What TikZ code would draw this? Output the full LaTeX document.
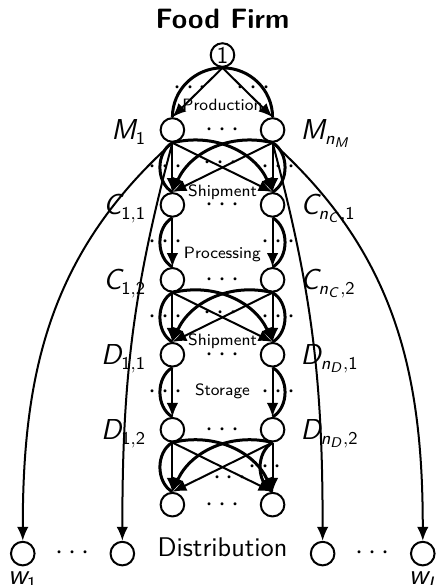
\documentclass[tikz,border=0pt]{standalone}
\usepackage{tikz}
\usetikzlibrary{positioning,calc,arrows.meta}
\DeclareMathAlphabet{\mathsfit}{OT1}{cmss}{m}{sl}
\newcommand{\lab}[2]{$\mathsfit{#1}_{#2}$}
\newcommand{\si}[1]{\mathsfit{#1}}
\newcommand{\su}[1]{\mathsf{#1}}

\begin{document}
\begin{tikzpicture}[
      every node/.style={font=\sffamily},
      V/.style={on grid,draw,circle,line width=1pt,inner sep=0pt,minimum size=11.8pt,
        font=\sffamily\fontsize{12}{14}\selectfont},
      lbl/.style={inner sep=0pt,text depth=0pt,font=\sffamily\fontsize{13.5}{16}\selectfont},
      dots/.style={inner sep=0pt,font=\fontsize{13.5}{16}\selectfont},
      stage/.style={inner sep=0pt,font=\sffamily\fontsize{8.2}{10}\selectfont},
      e/.style={->,line width=1pt},
      par/.style={line width=1.5pt},
      crs/.style={->,line width=1.5pt},
      >={Latex[length=7pt,width=5.8pt]},
    ]
    \useasboundingbox (-39.1mm,9.67mm) rectangle (37.52mm,-93.14mm);
    \node[V] (one) {1};
    \node[V, below left=13.17mm and 8.8mm of one] (m1) {};
    \node[V, below right=13.17mm and 8.8mm of one] (mn) {};
    \node[V, below=13.17mm of m1] (c11) {};
    \node[V, below=13.17mm of mn] (cn1) {};
    \node[V, below=13.17mm of c11] (c12) {};
    \node[V, below=13.17mm of cn1] (cn2) {};
    \node[V, below=13.17mm of c12] (d11) {};
    \node[V, below=13.17mm of cn2] (dn1) {};
    \node[V, below=13.17mm of d11] (d12) {};
    \node[V, below=13.17mm of dn1] (dn2) {};
    \node[V, below=13.17mm of d12] (e1) {};
    \node[V, below=13.17mm of dn2] (en) {};
    \node[V, below left=8.6mm and 8.8mm of e1] (w2) {};
    \node[V, left=17.5mm of w2] (w1) {};
    \node[V, below right=8.6mm and 8.8mm of en] (w3) {};
    \node[V, right=17.6mm of w3] (w4) {};

    % titel en namen
    \node[font=\sffamily\bfseries\fontsize{14}{16}\selectfont,inner sep=0pt] (ttl) at ($(one)+(0,6.3mm)$) {Food Firm};
    \node[lbl, left=2.3mm of m1] (lm1) {\lab{M}{\su{1}}};
    \node[lbl, right=2.6mm of mn] (lmn) {\lab{M}{\si{n}_{\si{M}}}};
    \node[lbl, left=2.3mm of c11] (lc11) {\lab{C}{\su{1},\su{1}}};
    \node[lbl, right=2.6mm of cn1] (lcn1) {\lab{C}{\si{n}_{\si{C}},\su{1}}};
    \node[lbl, left=2.3mm of c12] (lc12) {\lab{C}{\su{1},\su{2}}};
    \node[lbl, right=2.6mm of cn2] (lcn2) {\lab{C}{\si{n}_{\si{C}},\su{2}}};
    \node[lbl, left=2.3mm of d11] (ld11) {\lab{D}{\su{1},\su{1}}};
    \node[lbl, right=2.6mm of dn1] (ldn1) {\lab{D}{\si{n}_{\si{D}},\su{1}}};
    \node[lbl, left=2.3mm of d12] (ld12) {\lab{D}{\su{1},\su{2}}};
    \node[lbl, right=2.6mm of dn2] (ldn2) {\lab{D}{\si{n}_{\si{D}},\su{2}}};
    \node[lbl, below=0.9mm of w1] (lw1) {\lab{w}{\su{1}}};
    \node[lbl, below=0.9mm of w4] (lw4) {\lab{w}{\si{I}}};

    % stappen
    \node[stage] (tprod) at ($(m1)!.5!(mn)+(0,4.4mm)$) {Production};
    \node[stage] (tship1) at ($(c11)!.5!(cn1)+(0,2.3mm)$) {Shipment};
    \node[stage] (tproc) at ($(c12)!.5!(cn2)+(0,4.4mm)$) {Processing};
    \node[stage] (tship2) at ($(d11)!.5!(dn1)+(0,2.3mm)$) {Shipment};
    \node[stage] (tstor) at ($(d12)!.5!(dn2)+(0,6.8mm)$) {Storage};
    \node[lbl] (tdist) at ($(w2)!.5!(w3)+(0,1.2mm)$) {Distribution};

    % puntjes tussen knopen
    \foreach \a/\b in {m1/mn,c11/cn1,c12/cn2,d11/dn1,d12/dn2,e1/en,w1/w2,w3/w4}
      \node[dots] (r-\a) at ($(\a)!.5!(\b)$) {$\cdots$};
    \node[dots] (p-l) at ($(one)+(-5.7mm,-5.8mm)$) {$\cdots$};
    \node[dots] (p-r) at ($(one)+(5.5mm,-5.8mm)$) {$\cdots$};
    \foreach \a/\b/\c/\d in {m1/c11/mn/cn1,c11/c12/cn1/cn2,c12/d11/cn2/dn1,d11/d12/dn1/dn2} {
      \node[dots] (s-\a) at ($(\a)!.5!(\b)+(-1.2mm,0)$) {$\cdots$};
      \node[dots] (s-\c) at ($(\c)!.5!(\d)+(1.05mm,0)$) {$\cdots$};
    }
    \node[dots] (x-m) at ($(m1)!.5!(cn1)+(-0.3mm,0.8mm)$) {$\cdots$};
    \node[dots] (x-c) at ($(c12)!.5!(dn1)+(-0.3mm,0.8mm)$) {$\cdots$};
    \node[dots] (x-d) at ($(d12)!.5!(en)+(1.3mm,-1.9mm)$) {$\cdots$};
    \node[dots] (s-dn2) at ($(dn2)!.5!(en)+(-1.3mm,0.1mm)$) {$\cdots$};

    % productie
    \draw[e] (one.south) -- (m1.north);
    \draw[e] (one.south) -- (mn.north);
    \draw[par] (one.south) to[out=180,in=90] (m1.north);
    \draw[par] (one.south) to[out=0,in=90] (mn.north);

    % verzending naar C
    \draw[e] (m1.south) -- (c11.north);
    \draw[par] (m1.south) to[bend right=60] (c11.north);
    \draw[e] (m1.south) -- (cn1.north);
    \draw[crs] (m1.south) to[bend left=40] (cn1.north);
    \draw[e] (mn.south) -- (cn1.north);
    \draw[par] (mn.south) to[bend left=60] (cn1.north);
    \draw[e] (mn.south) -- (c11.north);
    \draw[crs] (mn.south) to[bend right=40] (c11.north);

    % verwerking
    \draw[e] (c11.south) -- (c12.north);
    \draw[par] (c11.south) to[bend right=60] (c12.north);
    \draw[e] (cn1.south) -- (cn2.north);
    \draw[par] (cn1.south) to[bend left=60] (cn2.north);

    % verzending naar D
    \draw[e] (c12.south) -- (d11.north);
    \draw[par] (c12.south) to[bend right=60] (d11.north);
    \draw[e] (c12.south) -- (dn1.north);
    \draw[crs] (c12.south) to[bend left=40] (dn1.north);
    \draw[e] (cn2.south) -- (dn1.north);
    \draw[par] (cn2.south) to[bend left=60] (dn1.north);
    \draw[e] (cn2.south) -- (d11.north);
    \draw[crs] (cn2.south) to[bend right=40] (d11.north);

    % opslag
    \draw[e] (d11.south) -- (d12.north);
    \draw[par] (d11.south) to[bend right=60] (d12.north);
    \draw[e] (dn1.south) -- (dn2.north);
    \draw[par] (dn1.south) to[bend left=60] (dn2.north);

    % laatste laag
    \draw[e] (d12.south) -- (e1.north);
    \draw[par] (d12.south) to[bend right=60] (e1.north);
    \draw[e] (d12.south) -- (en.north);
    \draw[crs] (d12.south) to[bend left=40] (en.north);
    \draw[e] (dn2.south) -- (en.north);
    \draw[par] (dn2.south) to[bend right=60] (en.north);
    \draw[e] (dn2.south) -- (e1.north);
    \draw[crs] (dn2.south) to[bend right=40] (e1.north);

    % distributie
    \draw[e] (m1.south) to[out=222,in=90] (w1.north);
    \draw[e] (m1.south) to[out=255,in=90] (w2.north);
    \draw[e] (mn.south) to[out=-75,in=90] (w3.north);
    \draw[e] (mn.south) to[out=-42,in=90] (w4.north);
  \end{tikzpicture}
\end{document}
